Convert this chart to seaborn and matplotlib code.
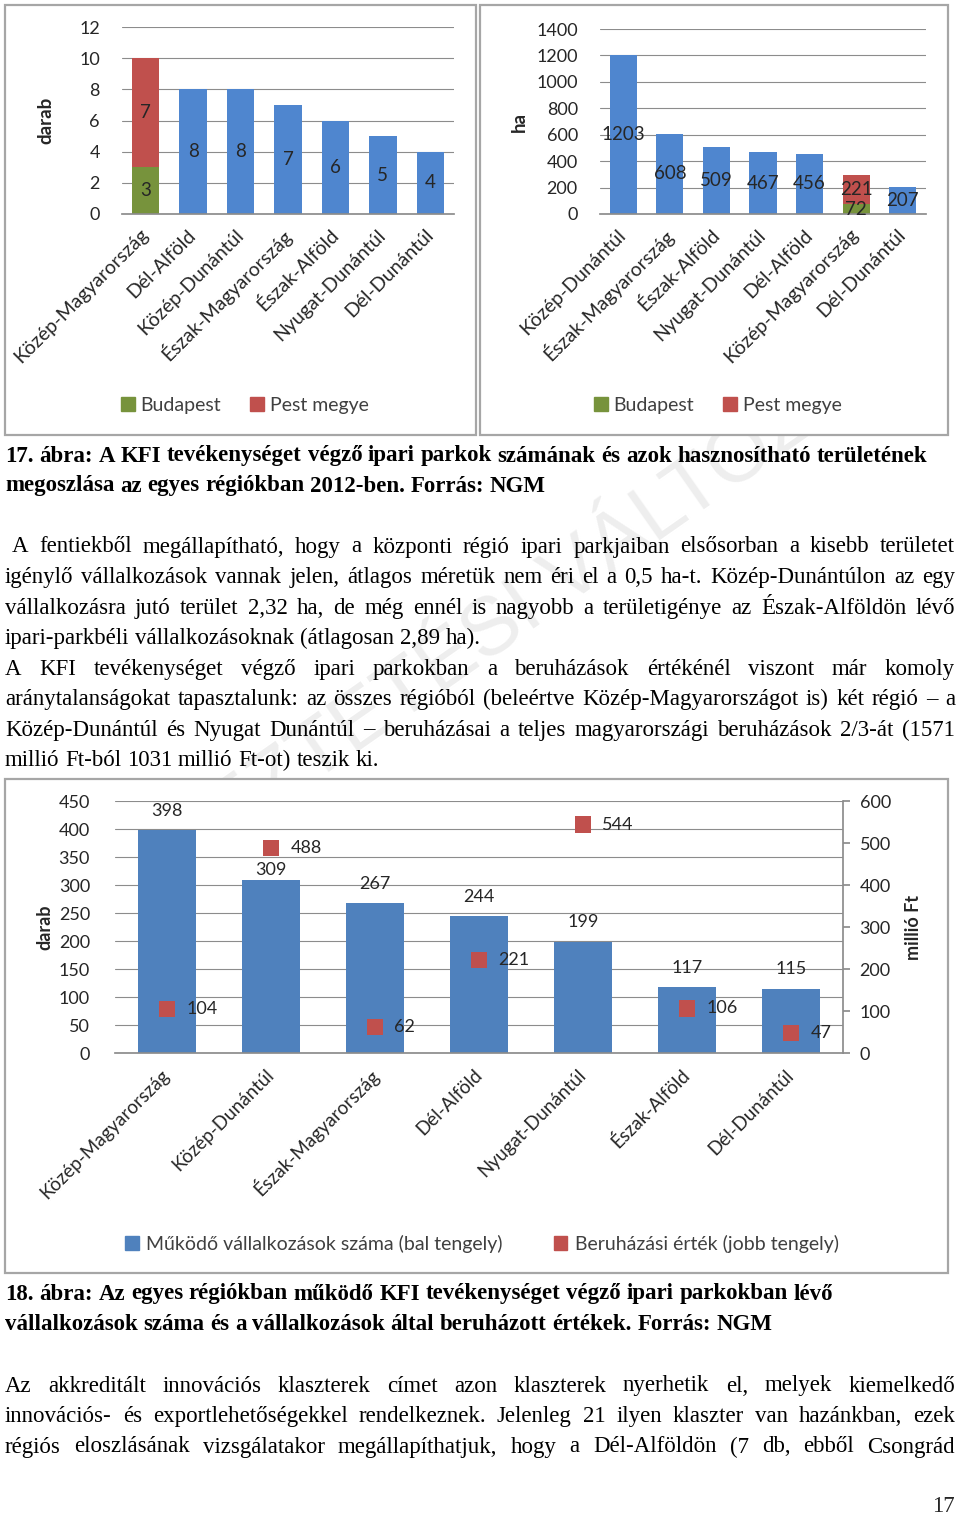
import numpy as np
import seaborn as sns
import matplotlib.pyplot as plt
from matplotlib.patches import Patch, Rectangle

# --- data -------------------------------------------------------------
regions_count = ["Közép-Magyarország", "Dél-Alföld", "Közép-Dunántúl", "Észak-Magyarország",
                 "Észak-Alföld", "Nyugat-Dunántúl", "Dél-Dunántúl"]
budapest_count = [3, 0, 0, 0, 0, 0, 0]
pest_count = [7, 0, 0, 0, 0, 0, 0]
other_count = [0, 8, 8, 7, 6, 5, 4]

regions_area = ["Közép-Dunántúl", "Észak-Magyarország", "Észak-Alföld", "Nyugat-Dunántúl",
                "Dél-Alföld", "Közép-Magyarország", "Dél-Dunántúl"]
budapest_area = [0, 0, 0, 0, 0, 72, 0]
pest_area = [0, 0, 0, 0, 0, 221, 0]
other_area = [1203, 608, 509, 467, 456, 0, 207]

regions_firms = ["Közép-Magyarország", "Közép-Dunántúl", "Észak-Magyarország", "Dél-Alföld",
                 "Nyugat-Dunántúl", "Észak-Alföld", "Dél-Dunántúl"]
firms = [398, 309, 267, 244, 199, 117, 115]
invest = [104, 488, 62, 221, 544, 106, 47]

caption17 = ["17. ábra: A KFI tevékenységet végző ipari parkok számának és azok hasznosítható területének",
             "megoszlása az egyes régiókban 2012-ben. Forrás: NGM"]
para1 = ["A fentiekből megállapítható, hogy a központi régió ipari parkjaiban elsősorban a kisebb területet",
         "igénylő vállalkozások vannak jelen, átlagos méretük nem éri el a 0,5 ha-t. Közép-Dunántúlon az egy",
         "vállalkozásra jutó terület 2,32 ha, de még ennél is nagyobb a területigénye az Észak-Alföldön lévő",
         "ipari-parkbéli vállalkozásoknak (átlagosan 2,89 ha)."]
para2 = ["A KFI tevékenységet végző ipari parkokban a beruházások értékénél viszont már komoly",
         "aránytalanságokat tapasztalunk: az összes régióból (beleértve Közép-Magyarországot is) két régió – a",
         "Közép-Dunántúl és Nyugat Dunántúl – beruházásai a teljes magyarországi beruházások 2/3-át (1571",
         "millió Ft-ból 1031 millió Ft-ot) teszik ki."]
caption18 = ["18. ábra: Az egyes régiókban működő KFI tevékenységet végző ipari parkokban lévő",
             "vállalkozások száma és a vállalkozások által beruházott értékek. Forrás: NGM"]
para3 = ["Az akkreditált innovációs klaszterek címet azon klaszterek nyerhetik el, melyek kiemelkedő",
         "innovációs- és exportlehetőségekkel rendelkeznek. Jelenleg 21 ilyen klaszter van hazánkban, ezek",
         "régiós eloszlásának vizsgálatakor megállapíthatjuk, hogy a Dél-Alföldön (7 db, ebből Csongrád"]

BLUE = "#4F86CF"
BLUE3 = "#4F81BD"
GREEN = "#77933C"
RED = "#C0504D"
GRID = "#8C8C8C"
TXT = "#262626"
SANS = ["Lato", "DejaVu Sans"]
SERIF = ["Liberation Serif", "DejaVu Serif"]

sns.set_theme(style="white")
plt.rcParams["font.family"] = SANS

W, H = 960, 1517
fig = plt.figure(figsize=(W / 100, H / 100), dpi=100)
fig.patch.set_facecolor("white")
renderer = fig.canvas.get_renderer()


def rect(l, t, r, b):
    return [l / W, 1 - b / H, (r - l) / W, (b - t) / H]


def frame(l, t, r, b):
    fig.patches.append(Rectangle((l / W, 1 - b / H), (r - l) / W, (b - t) / H,
                                 transform=fig.transFigure, facecolor="white",
                                 edgecolor="#A6A6A6", lw=1.6, zorder=-1))


# watermark behind the charts, shrunk so it stays on the page
wm = fig.text(480 / W, 1 - 640 / H, "EGYEZTETÉSI VÁLTOZAT", fontsize=70, color="#EEEEEE",
              rotation=35, ha="center", va="center", family=["Liberation Sans", "DejaVu Sans"],
              zorder=-2)
bb = wm.get_window_extent(renderer)
if bb.width > 860:
    wm.set_fontsize(70 * 860 / bb.width)

frame(5, 5, 476, 435)
frame(480, 5, 948, 435)
frame(5, 779, 948, 1273)


def style_axis(ax, pad, size=13, xsize=14, xpad=13):
    ax.set_facecolor("none")
    for s in ["left", "right", "top"]:
        ax.spines[s].set_visible(False)
    ax.spines["bottom"].set_color(GRID)
    ax.set_axisbelow(True)
    ax.yaxis.grid(True, color=GRID, lw=0.8)
    ax.tick_params(axis="y", length=0, pad=pad, labelsize=size, labelcolor=TXT)
    ax.tick_params(axis="x", length=0, pad=xpad, labelsize=xsize, labelcolor=TXT)
    ax.set_xlabel("")
    for lab in ax.get_xticklabels():
        lab.set_rotation(45)
        lab.set_ha("right")
        lab.set_va("center")
        lab.set_rotation_mode("anchor")


def stacked_chart(ax, regions, bp, pest, other, ymax, step, ylabel, ylab_x):
    totals = [b + p + o for b, p, o in zip(bp, pest, other)]
    colors = [RED if p > 0 else BLUE for p in pest]
    sns.barplot(x=regions, y=totals, hue=regions, palette=colors, legend=False,
                width=0.58, saturation=1, linewidth=0, ax=ax)
    sns.barplot(x=regions, y=bp, color=GREEN, width=0.58, saturation=1, linewidth=0, ax=ax)
    ax.set_ylim(0, ymax)
    ax.set_xlim(-0.5, len(regions) - 0.5)
    ax.set_yticks(np.arange(0, ymax + 1, step))
    for i, (b, p, o) in enumerate(zip(bp, pest, other)):
        if o:
            ax.text(i, o / 2, str(o), ha="center", va="center", fontsize=13.5, color=TXT)
        if b:
            ax.text(i, b / 2, str(b), ha="center", va="center", fontsize=13.5, color=TXT)
        if p:
            ax.text(i, b + p / 2, str(p), ha="center", va="center", fontsize=13.5, color=TXT)
    style_axis(ax, 16)
    ax.set_ylabel(ylabel, fontsize=13.5, fontweight="bold", color=TXT)
    ax.yaxis.set_label_coords(ylab_x, 0.5)


ax1 = fig.add_axes(rect(122, 27, 454, 214))
stacked_chart(ax1, regions_count, budapest_count, pest_count, other_count, 12, 2, "darab", -0.205)

ax2 = fig.add_axes(rect(600, 29, 926, 214))
stacked_chart(ax2, regions_area, budapest_area, pest_area, other_area, 1400, 200, "ha", -0.222)

leg_handles = [Patch(color=GREEN), Patch(color=RED)]
for cx in (245, 718):
    fig.legend(leg_handles, ["Budapest", "Pest megye"], loc="center",
               bbox_to_anchor=(cx / W, 1 - 405 / H), ncol=2, frameon=False,
               handlelength=0.7, handleheight=0.7, handletextpad=0.3,
               columnspacing=1.5, fontsize=14, labelcolor="#404040")

# --- bottom combo chart -------------------------------------------------
ax3 = fig.add_axes(rect(115, 801, 843, 1053))
sns.barplot(x=regions_firms, y=firms, color=BLUE3, width=0.56, saturation=1, linewidth=0, ax=ax3)
ax3.set_ylim(0, 450)
ax3.set_xlim(-0.5, len(regions_firms) - 0.5)
ax3.set_yticks(np.arange(0, 451, 50))
label_lift = [14, 7, 14, 14, 14, 14, 14]
for i, v in enumerate(firms):
    ax3.annotate(str(v), (i, v), xytext=(0, label_lift[i]), textcoords="offset points",
                 ha="center", va="center", fontsize=13, color=TXT)
style_axis(ax3, 18, size=13, xsize=13.5, xpad=14)
ax3.set_ylabel("darab", fontsize=13, fontweight="bold", color=TXT)
ax3.yaxis.set_label_coords(-0.085, 0.5)

ax3r = ax3.twinx()
ax3r.set_ylim(0, 600)
ax3r.set_yticks(np.arange(0, 601, 100))
sns.scatterplot(x=np.arange(len(regions_firms)), y=invest, marker="s", s=135,
                color=RED, edgecolor="none", ax=ax3r, zorder=5)
for i, v in enumerate(invest):
    ax3r.annotate(str(v), (i, v), xytext=(14, 0), textcoords="offset points",
                  va="center", ha="left", fontsize=13, color=TXT)
for s in ["left", "top", "bottom"]:
    ax3r.spines[s].set_visible(False)
ax3r.spines["right"].set_color(GRID)
ax3r.tick_params(axis="y", length=5, color=GRID, pad=7, labelsize=13, labelcolor=TXT)
ax3r.set_ylabel("millió Ft", fontsize=13, fontweight="bold", color=TXT)
ax3r.yaxis.set_label_coords(1.085, 0.5)
ax3r.grid(False)

fig.legend([Patch(color=BLUE3), Patch(color=RED)],
           ["Működő vállalkozások száma (bal tengely)", "Beruházási érték (jobb tengely)"],
           loc="center", bbox_to_anchor=(482 / W, 1 - 1244 / H), ncol=2, frameon=False,
           handlelength=0.7, handleheight=0.7, handletextpad=0.4,
           columnspacing=2.6, fontsize=14, labelcolor="#404040")

# --- page text ----------------------------------------------------------
FS = 16.5


def put_line(text, y, x0=5, x1=955, bold=False, justify=True):
    words = text.split(" ")
    arts = [fig.text(0, 1 - y / H, w, fontsize=FS, family=SERIF, color="black",
                     fontweight="bold" if bold else "normal", ha="left", va="center")
            for w in words]
    widths = [a.get_window_extent(renderer).width for a in arts]
    if justify and len(words) > 1:
        gap = (x1 - x0 - sum(widths)) / (len(words) - 1)
    else:
        gap = FS * 0.25 * 100 / 72
    x = x0
    for a, w in zip(arts, widths):
        a.set_x(x / W)
        x += w + gap


for k, ln in enumerate(caption17):
    put_line(ln, 456 + 30 * k, bold=True, justify=False)
for k, ln in enumerate(para1):
    put_line(ln, 547 + 30.5 * k, x0=12 if k == 0 else 5, justify=k < len(para1) - 1)
for k, ln in enumerate(para2):
    put_line(ln, 669 + 30.5 * k, justify=k < len(para2) - 1)
for k, ln in enumerate(caption18):
    put_line(ln, 1294 + 31 * k, bold=True, justify=False)
for k, ln in enumerate(para3):
    put_line(ln, 1386 + 30.5 * k)
fig.text(955 / W, 1 - 1507 / H, "17", fontsize=FS, family=SERIF, ha="right", va="center")

fig.savefig("out.png", dpi=100, facecolor="white")
